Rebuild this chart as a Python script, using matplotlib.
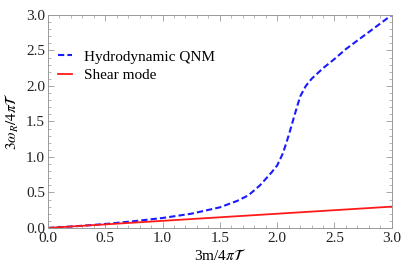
import matplotlib
matplotlib.use("Agg")
import matplotlib.pyplot as plt
from matplotlib.ticker import MultipleLocator

# values
m_qnm = [0.0, 0.25, 0.5, 0.75, 1.0, 1.25, 1.5, 1.65, 1.75, 1.85, 1.95, 2.0,
         2.05, 2.1, 2.15, 2.2, 2.25, 2.3, 2.4, 2.5, 2.6, 2.7, 2.8, 2.9, 3.0]
w_qnm = [0.0, 0.025, 0.055, 0.095, 0.14, 0.2, 0.29, 0.38, 0.46, 0.6, 0.78, 0.88,
         1.05, 1.3, 1.58, 1.85, 2.0, 2.1, 2.25, 2.38, 2.52, 2.64, 2.76, 2.88, 3.0]
m_shear = [0.0, 3.0]
w_shear = [0.0, 0.3]

plt.rcParams['font.family'] = ['Liberation Serif', 'DejaVu Serif']
plt.rcParams['mathtext.fontset'] = 'stix'

fig = plt.figure(figsize=(4.09, 2.72), dpi=100)
ax = fig.add_axes([0.117, 0.162, 0.841, 0.783])

ax.plot(m_qnm, w_qnm, color='#1a1aff', ls=(0, (3, 1.5)), lw=1.5, label='Hydrodynamic QNM')
ax.plot(m_shear, w_shear, color='#ff1a1a', lw=1.3, label='Shear mode')

ax.set_xlim(0, 3)
ax.set_ylim(0, 3)
ax.xaxis.set_major_locator(MultipleLocator(0.5))
ax.yaxis.set_major_locator(MultipleLocator(0.5))
ax.xaxis.set_minor_locator(MultipleLocator(0.1))
ax.yaxis.set_minor_locator(MultipleLocator(0.1))
ax.tick_params(which='both', direction='in', top=True, right=True, color='#999999',
               labelsize=11, labelcolor='#222222')
ax.tick_params(axis='x', pad=3)
ax.tick_params(axis='y', pad=2)
ax.tick_params(which='major', length=4, width=0.6)
ax.tick_params(which='minor', length=2, width=0.5)
for s in ax.spines.values():
    s.set_color('#999999')
    s.set_linewidth(0.7)

ax.set_xlabel(r'3m/4$\pi\mathcal{T}$', fontsize=11, labelpad=2)
ax.set_ylabel(r'$3\omega_R/4\pi\mathcal{T}$', fontsize=11, labelpad=4)

ax.legend(loc='upper left', bbox_to_anchor=(-0.01, 0.9), frameon=False, fontsize=11,
          handlelength=0.9, handletextpad=0.8, labelspacing=0.3)

fig.savefig('out.png', dpi=100)
